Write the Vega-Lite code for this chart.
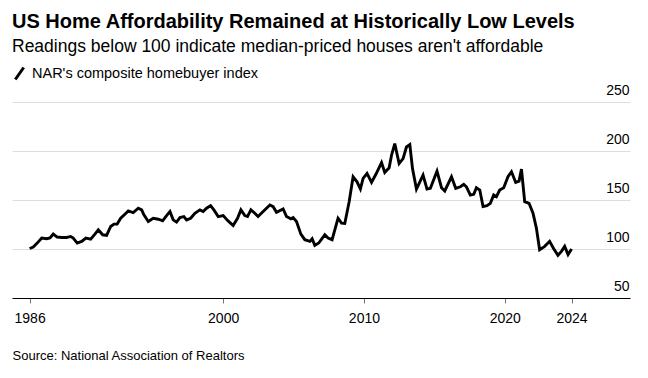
{
  "$schema": "https://vega.github.io/schema/vega-lite/v6.json",
  "width": 618,
  "height": 196,
  "autosize": {"type": "none"},
  "padding": {"left": 12, "top": 102, "right": 18, "bottom": 80},
  "background": "white",
  "title": {
    "text": "US Home Affordability Remained at Historically Low Levels",
    "subtitle": "Readings below 100 indicate median-priced houses aren't affordable",
    "anchor": "start",
    "frame": "group",
    "font": "Liberation Sans",
    "fontSize": 20,
    "fontWeight": "bold",
    "color": "#000000",
    "subtitleFont": "Liberation Sans",
    "subtitleFontSize": 17.5,
    "subtitleColor": "#000000",
    "subtitlePadding": 6,
    "offset": 11
  },
  "config": {
    "view": {"stroke": null},
    "font": "Liberation Sans"
  },
  "data": {
    "values": [
      {"year": 1986.25, "index": 100.5, "series": "NAR's composite homebuyer index"},
      {"year": 1986.51, "index": 102, "series": "NAR's composite homebuyer index"},
      {"year": 1986.79, "index": 106, "series": "NAR's composite homebuyer index"},
      {"year": 1987.11, "index": 111.2, "series": "NAR's composite homebuyer index"},
      {"year": 1987.46, "index": 110.5, "series": "NAR's composite homebuyer index"},
      {"year": 1987.70, "index": 111.2, "series": "NAR's composite homebuyer index"},
      {"year": 1987.93, "index": 115.2, "series": "NAR's composite homebuyer index"},
      {"year": 1988.21, "index": 112.2, "series": "NAR's composite homebuyer index"},
      {"year": 1988.53, "index": 111.8, "series": "NAR's composite homebuyer index"},
      {"year": 1988.88, "index": 111.8, "series": "NAR's composite homebuyer index"},
      {"year": 1989.17, "index": 112.8, "series": "NAR's composite homebuyer index"},
      {"year": 1989.35, "index": 111.2, "series": "NAR's composite homebuyer index"},
      {"year": 1989.63, "index": 106, "series": "NAR's composite homebuyer index"},
      {"year": 1989.95, "index": 107.8, "series": "NAR's composite homebuyer index"},
      {"year": 1990.25, "index": 111.2, "series": "NAR's composite homebuyer index"},
      {"year": 1990.59, "index": 110.1, "series": "NAR's composite homebuyer index"},
      {"year": 1990.89, "index": 115.2, "series": "NAR's composite homebuyer index"},
      {"year": 1991.13, "index": 119.6, "series": "NAR's composite homebuyer index"},
      {"year": 1991.44, "index": 114.5, "series": "NAR's composite homebuyer index"},
      {"year": 1991.72, "index": 113.9, "series": "NAR's composite homebuyer index"},
      {"year": 1992.01, "index": 123, "series": "NAR's composite homebuyer index"},
      {"year": 1992.24, "index": 125.4, "series": "NAR's composite homebuyer index"},
      {"year": 1992.47, "index": 125.4, "series": "NAR's composite homebuyer index"},
      {"year": 1992.72, "index": 131.4, "series": "NAR's composite homebuyer index"},
      {"year": 1993.02, "index": 135.5, "series": "NAR's composite homebuyer index"},
      {"year": 1993.26, "index": 138.9, "series": "NAR's composite homebuyer index"},
      {"year": 1993.61, "index": 137.2, "series": "NAR's composite homebuyer index"},
      {"year": 1993.97, "index": 141.6, "series": "NAR's composite homebuyer index"},
      {"year": 1994.21, "index": 139.9, "series": "NAR's composite homebuyer index"},
      {"year": 1994.37, "index": 134.8, "series": "NAR's composite homebuyer index"},
      {"year": 1994.68, "index": 128.1, "series": "NAR's composite homebuyer index"},
      {"year": 1995.03, "index": 131.4, "series": "NAR's composite homebuyer index"},
      {"year": 1995.39, "index": 130.4, "series": "NAR's composite homebuyer index"},
      {"year": 1995.70, "index": 128.7, "series": "NAR's composite homebuyer index"},
      {"year": 1995.98, "index": 134.1, "series": "NAR's composite homebuyer index"},
      {"year": 1996.22, "index": 138.2, "series": "NAR's composite homebuyer index"},
      {"year": 1996.45, "index": 129.7, "series": "NAR's composite homebuyer index"},
      {"year": 1996.69, "index": 127.4, "series": "NAR's composite homebuyer index"},
      {"year": 1996.93, "index": 132.1, "series": "NAR's composite homebuyer index"},
      {"year": 1997.21, "index": 133.1, "series": "NAR's composite homebuyer index"},
      {"year": 1997.40, "index": 129.7, "series": "NAR's composite homebuyer index"},
      {"year": 1997.69, "index": 131.4, "series": "NAR's composite homebuyer index"},
      {"year": 1997.99, "index": 136.5, "series": "NAR's composite homebuyer index"},
      {"year": 1998.35, "index": 139.9, "series": "NAR's composite homebuyer index"},
      {"year": 1998.58, "index": 138.2, "series": "NAR's composite homebuyer index"},
      {"year": 1998.82, "index": 141.6, "series": "NAR's composite homebuyer index"},
      {"year": 1999.11, "index": 144.3, "series": "NAR's composite homebuyer index"},
      {"year": 1999.34, "index": 139.9, "series": "NAR's composite homebuyer index"},
      {"year": 1999.65, "index": 133.1, "series": "NAR's composite homebuyer index"},
      {"year": 2000.00, "index": 134.1, "series": "NAR's composite homebuyer index"},
      {"year": 2000.35, "index": 128.7, "series": "NAR's composite homebuyer index"},
      {"year": 2000.71, "index": 124, "series": "NAR's composite homebuyer index"},
      {"year": 2001.02, "index": 131.4, "series": "NAR's composite homebuyer index"},
      {"year": 2001.26, "index": 139.9, "series": "NAR's composite homebuyer index"},
      {"year": 2001.54, "index": 134.1, "series": "NAR's composite homebuyer index"},
      {"year": 2001.73, "index": 133.1, "series": "NAR's composite homebuyer index"},
      {"year": 2001.97, "index": 139.9, "series": "NAR's composite homebuyer index"},
      {"year": 2002.25, "index": 136.5, "series": "NAR's composite homebuyer index"},
      {"year": 2002.48, "index": 133.1, "series": "NAR's composite homebuyer index"},
      {"year": 2002.84, "index": 138.2, "series": "NAR's composite homebuyer index"},
      {"year": 2003.32, "index": 144.9, "series": "NAR's composite homebuyer index"},
      {"year": 2003.55, "index": 143.2, "series": "NAR's composite homebuyer index"},
      {"year": 2003.79, "index": 137.5, "series": "NAR's composite homebuyer index"},
      {"year": 2004.26, "index": 140.9, "series": "NAR's composite homebuyer index"},
      {"year": 2004.50, "index": 133.1, "series": "NAR's composite homebuyer index"},
      {"year": 2004.81, "index": 130.8, "series": "NAR's composite homebuyer index"},
      {"year": 2004.97, "index": 132.1, "series": "NAR's composite homebuyer index"},
      {"year": 2005.21, "index": 128.1, "series": "NAR's composite homebuyer index"},
      {"year": 2005.52, "index": 115.2, "series": "NAR's composite homebuyer index"},
      {"year": 2005.80, "index": 109.5, "series": "NAR's composite homebuyer index"},
      {"year": 2006.16, "index": 107.8, "series": "NAR's composite homebuyer index"},
      {"year": 2006.32, "index": 110.5, "series": "NAR's composite homebuyer index"},
      {"year": 2006.51, "index": 103.7, "series": "NAR's composite homebuyer index"},
      {"year": 2006.79, "index": 106.1, "series": "NAR's composite homebuyer index"},
      {"year": 2007.22, "index": 114.5, "series": "NAR's composite homebuyer index"},
      {"year": 2007.45, "index": 111.2, "series": "NAR's composite homebuyer index"},
      {"year": 2007.74, "index": 109.5, "series": "NAR's composite homebuyer index"},
      {"year": 2008.16, "index": 131.4, "series": "NAR's composite homebuyer index"},
      {"year": 2008.41, "index": 126.4, "series": "NAR's composite homebuyer index"},
      {"year": 2008.64, "index": 126, "series": "NAR's composite homebuyer index"},
      {"year": 2008.95, "index": 148.3, "series": "NAR's composite homebuyer index"},
      {"year": 2009.23, "index": 173.7, "series": "NAR's composite homebuyer index"},
      {"year": 2009.51, "index": 168.6, "series": "NAR's composite homebuyer index"},
      {"year": 2009.75, "index": 161.2, "series": "NAR's composite homebuyer index"},
      {"year": 2009.94, "index": 172, "series": "NAR's composite homebuyer index"},
      {"year": 2010.22, "index": 177.1, "series": "NAR's composite homebuyer index"},
      {"year": 2010.54, "index": 167.9, "series": "NAR's composite homebuyer index"},
      {"year": 2010.84, "index": 176, "series": "NAR's composite homebuyer index"},
      {"year": 2011.25, "index": 188.2, "series": "NAR's composite homebuyer index"},
      {"year": 2011.48, "index": 178.1, "series": "NAR's composite homebuyer index"},
      {"year": 2011.79, "index": 182.8, "series": "NAR's composite homebuyer index"},
      {"year": 2011.96, "index": 195.7, "series": "NAR's composite homebuyer index"},
      {"year": 2012.19, "index": 207.5, "series": "NAR's composite homebuyer index"},
      {"year": 2012.50, "index": 187.2, "series": "NAR's composite homebuyer index"},
      {"year": 2012.78, "index": 192.3, "series": "NAR's composite homebuyer index"},
      {"year": 2013.02, "index": 204.1, "series": "NAR's composite homebuyer index"},
      {"year": 2013.26, "index": 206.5, "series": "NAR's composite homebuyer index"},
      {"year": 2013.45, "index": 182.1, "series": "NAR's composite homebuyer index"},
      {"year": 2013.73, "index": 161.2, "series": "NAR's composite homebuyer index"},
      {"year": 2014.20, "index": 175.4, "series": "NAR's composite homebuyer index"},
      {"year": 2014.48, "index": 161.2, "series": "NAR's composite homebuyer index"},
      {"year": 2014.72, "index": 161.9, "series": "NAR's composite homebuyer index"},
      {"year": 2015.19, "index": 179.4, "series": "NAR's composite homebuyer index"},
      {"year": 2015.51, "index": 162.5, "series": "NAR's composite homebuyer index"},
      {"year": 2015.74, "index": 159.2, "series": "NAR's composite homebuyer index"},
      {"year": 2016.22, "index": 173.7, "series": "NAR's composite homebuyer index"},
      {"year": 2016.52, "index": 161.9, "series": "NAR's composite homebuyer index"},
      {"year": 2016.85, "index": 163.5, "series": "NAR's composite homebuyer index"},
      {"year": 2017.09, "index": 165.9, "series": "NAR's composite homebuyer index"},
      {"year": 2017.28, "index": 163.5, "series": "NAR's composite homebuyer index"},
      {"year": 2017.56, "index": 155.1, "series": "NAR's composite homebuyer index"},
      {"year": 2017.80, "index": 155.8, "series": "NAR's composite homebuyer index"},
      {"year": 2017.99, "index": 162.5, "series": "NAR's composite homebuyer index"},
      {"year": 2018.23, "index": 160.2, "series": "NAR's composite homebuyer index"},
      {"year": 2018.46, "index": 143.3, "series": "NAR's composite homebuyer index"},
      {"year": 2018.74, "index": 144.3, "series": "NAR's composite homebuyer index"},
      {"year": 2018.98, "index": 146.6, "series": "NAR's composite homebuyer index"},
      {"year": 2019.22, "index": 155.1, "series": "NAR's composite homebuyer index"},
      {"year": 2019.41, "index": 153.4, "series": "NAR's composite homebuyer index"},
      {"year": 2019.64, "index": 160.2, "series": "NAR's composite homebuyer index"},
      {"year": 2019.93, "index": 162.5, "series": "NAR's composite homebuyer index"},
      {"year": 2020.23, "index": 173.7, "series": "NAR's composite homebuyer index"},
      {"year": 2020.48, "index": 178.8, "series": "NAR's composite homebuyer index"},
      {"year": 2020.78, "index": 167.9, "series": "NAR's composite homebuyer index"},
      {"year": 2021.02, "index": 169.3, "series": "NAR's composite homebuyer index"},
      {"year": 2021.19, "index": 181.5, "series": "NAR's composite homebuyer index"},
      {"year": 2021.42, "index": 148.3, "series": "NAR's composite homebuyer index"},
      {"year": 2021.73, "index": 146.6, "series": "NAR's composite homebuyer index"},
      {"year": 2022.01, "index": 136.5, "series": "NAR's composite homebuyer index"},
      {"year": 2022.25, "index": 121.3, "series": "NAR's composite homebuyer index"},
      {"year": 2022.48, "index": 99.3, "series": "NAR's composite homebuyer index"},
      {"year": 2022.84, "index": 102.7, "series": "NAR's composite homebuyer index"},
      {"year": 2023.19, "index": 107.8, "series": "NAR's composite homebuyer index"},
      {"year": 2023.48, "index": 100.3, "series": "NAR's composite homebuyer index"},
      {"year": 2023.78, "index": 93.6, "series": "NAR's composite homebuyer index"},
      {"year": 2024.03, "index": 97.6, "series": "NAR's composite homebuyer index"},
      {"year": 2024.26, "index": 102.7, "series": "NAR's composite homebuyer index"},
      {"year": 2024.50, "index": 94.3, "series": "NAR's composite homebuyer index"},
      {"year": 2024.75, "index": 100, "series": "NAR's composite homebuyer index"}
    ]
  },
  "mark": {"type": "line", "strokeWidth": 2.9, "clip": false},
  "encoding": {
    "x": {
      "field": "year",
      "type": "quantitative",
      "scale": {"domain": [1985, 2028.9], "nice": false, "zero": false},
      "axis": {
        "values": [1986.25, 2000, 2010, 2020, 2024.75],
        "labelExpr": "floor(datum.value)",
        "grid": false,
        "domain": true,
        "domainColor": "#000000",
        "domainWidth": 1,
        "ticks": true,
        "tickColor": "#777777",
        "tickSize": 5,
        "tickWidth": 1,
        "labelFont": "Liberation Sans",
        "labelFontSize": 14,
        "labelColor": "#000000",
        "labelPadding": 8,
        "labelFlush": false,
        "labelOverlap": false,
        "title": "Source: National Association of Realtors",
        "titleFont": "Liberation Sans",
        "titleFontSize": 13,
        "titleFontWeight": "normal",
        "titleColor": "#000000",
        "titleAnchor": "start",
        "titleAlign": "left",
        "titleBaseline": "alphabetic",
        "titleX": 0,
        "titleY": 61
      }
    },
    "y": {
      "field": "index",
      "type": "quantitative",
      "scale": {"domain": [50, 250], "nice": false, "zero": false},
      "axis": {
        "orient": "right",
        "values": [50, 100, 150, 200, 250],
        "grid": true,
        "gridColor": "#dddddd",
        "gridWidth": 1,
        "domain": false,
        "ticks": false,
        "tickSize": 0,
        "labelAlign": "right",
        "labelBaseline": "alphabetic",
        "labelPadding": -1,
        "labelOffset": -8,
        "labelFont": "Liberation Sans",
        "labelFontSize": 14,
        "labelColor": "#000000",
        "title": null
      }
    },
    "color": {
      "field": "series",
      "type": "nominal",
      "scale": {"range": ["#000000"]},
      "legend": {
        "orient": "none",
        "legendX": 0,
        "legendY": -36,
        "title": null,
        "symbolType": "M-0.7,1L0.7,-1",
        "symbolSize": 144,
        "symbolStrokeWidth": 3,
        "symbolStrokeColor": "#000000",
        "labelFont": "Liberation Sans",
        "labelFontSize": 14.5,
        "labelColor": "#000000",
        "labelOffset": 5,
        "labelLimit": 0,
        "padding": 0
      }
    }
  }
}
